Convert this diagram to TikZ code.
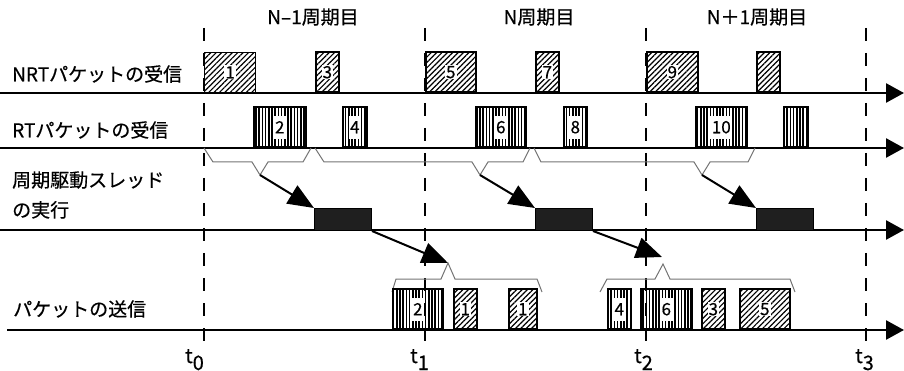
\documentclass[tikz,border=0pt]{standalone}
\usepackage{fontspec}
\setmainfont{Noto Sans CJK JP}[FakeBold=0.5]
\usetikzlibrary{arrows.meta,patterns.meta}

% packet box: name, style, left x, right x, bottom y, number
\newcommand\pktbox[6]{%
  \node[#2, minimum width={#4-#3}, anchor=south west] (#1) at (#3,#5) {};
  \if\relax\detokenize{#6}\relax\else
    \node[#2num] at (#1.center) {#6};
  \fi}

\begin{document}
\begin{tikzpicture}[x=1pt,y=-1pt,
  axis/.style={line width=2.6pt,-{Triangle[length=18pt,width=19pt]}},
  period/.style={line width=2pt,dash pattern=on 13pt off 12pt},
  rowlbl/.style={anchor=west,inner sep=0pt,font=\fontsize{19}{30}\selectfont,align=left},
  cyclbl/.style={inner sep=0pt,font=\fontsize{19}{22}\selectfont},
  tlbl/.style={anchor=base west,inner sep=0pt,font=\fontsize{20}{22}\selectfont},
  nrt/.style={draw,line width=1.6pt,inner sep=0pt,minimum height=40pt,
    pattern={Lines[angle=45,distance=3.8pt,line width=1.2pt]}},
  rt/.style={draw,line width=1.6pt,inner sep=0pt,minimum height=40pt,
    pattern={Lines[angle=90,distance=3.2pt,line width=1.5pt]}},
  nrtnum/.style={fill=white,inner sep=1pt,font=\fontsize{17}{17}\selectfont},
  rtnum/.style={fill=white,inner xsep=1.5pt,inner ysep=0pt,minimum height=23pt,
    font=\fontsize{17}{17}\selectfont},
  exec/.style={draw,line width=1pt,fill=black!88,inner sep=0pt,
    minimum width=57pt,minimum height=22pt,anchor=north west},
  brace/.style={draw=black!55,line width=1pt,line join=miter},
  flow/.style={line width=2pt,-{Triangle[length=26pt,width=21pt]}}]

\useasboundingbox (0,0) rectangle (904,371);

% time axes
\draw[axis] (0,93) -- (904,93);
\draw[axis] (0,148) -- (904,148);
\draw[axis] (0,230) -- (904,230);
\draw[axis] (7,330) -- (904,330);

% cycle boundaries
\foreach \x in {204,425,646,866}
  \draw[period] (\x,28) -- (\x,342);

% cycle titles
\node[cyclbl] (c1) at (313,17) {N–1周期目};
\node[cyclbl] (c2) at (539,17) {N周期目};
\node[cyclbl] (c3) at (757,17) {N＋1周期目};

% row titles
\node[rowlbl] (r1) at (12,74) {NRTパケットの受信};
\node[rowlbl] (r2) at (12,130) {RTパケットの受信};
\node[rowlbl] (r3) at (12,195) {周期駆動スレッド\\の実行};
\node[rowlbl] (r4) at (13,309) {パケットの送信};

% NRT packets received
\pktbox{n1}{nrt}{204}{255}{93}{1}
\pktbox{n3}{nrt}{315}{338}{93}{3}
\pktbox{n5}{nrt}{425}{475}{93}{5}
\pktbox{n7}{nrt}{535}{558}{93}{7}
\pktbox{n9}{nrt}{646}{697}{93}{9}
\pktbox{n11}{nrt}{756}{779}{93}{}

% RT packets received
\pktbox{q2}{rt}{253}{305}{148}{2}
\pktbox{q4}{rt}{342}{366}{148}{4}
\pktbox{q6}{rt}{475}{525}{148}{6}
\pktbox{q8}{rt}{563}{586}{148}{8}
\pktbox{q10}{rt}{695}{746}{148}{10}
\pktbox{q12}{rt}{783}{807}{148}{}

% groups of received packets handed to each cycle
\coordinate (bA) at (260,175);
\coordinate (bB) at (480,175);
\coordinate (bC) at (702,175);
\draw[brace] (204,148) -- (213,162) -- (252,162) -- (bA) -- (268,162) -- (303,162) -- (311,148);
\draw[brace] (315,148) -- (324,162) -- (472,162) -- (bB) -- (488,162) -- (523,162) -- (530,148);
\draw[brace] (534,148) -- (541,162) -- (694,162) -- (bC) -- (710,162) -- (748,162) -- (755,148);

% periodic thread runs
\node[exec] (e1) at (314,208) {};
\node[exec] (e2) at (535,208) {};
\node[exec] (e3) at (756,208) {};

\draw[flow] (bA) -- (e1.north west);
\draw[flow] (bB) -- (e2.north west);
\draw[flow] (bC) -- (e3.north west);

% groups of packets sent
\coordinate (sA) at (448,263);
\coordinate (sB) at (663,264);
\coordinate (sBin) at (662,257);
\draw[brace] (392,292) -- (396,279) -- (441,279) -- (sA) -- (455,279) -- (537,279) -- (542,292);
\draw[brace] (600,292) -- (607,279) -- (655,279) -- (sB) -- (670,279) -- (790,279) -- (795,292);

\draw[flow] (e1.south east) -- (sA);
\draw[flow] (e2.south east) -- (sBin);

% packets sent
\pktbox{s2}{rt}{392}{442}{330}{2}
\pktbox{s1a}{nrt}{453}{476}{330}{1}
\pktbox{s1b}{nrt}{508}{536}{330}{1}
\pktbox{s4}{rt}{607}{630}{330}{4}
\pktbox{s6}{rt}{640}{691}{330}{6}
\pktbox{s3}{nrt}{701}{724}{330}{3}
\pktbox{s5}{nrt}{739}{789}{330}{5}

% cycle start times
\node[tlbl] (t0) at (185,363) {t\raisebox{-7pt}{0}};
\node[tlbl] (t1) at (410,363) {t\raisebox{-7pt}{1}};
\node[tlbl] (t2) at (634,363) {t\raisebox{-7pt}{2}};
\node[tlbl] (t3) at (855,363) {t\raisebox{-7pt}{3}};
\end{tikzpicture}
\end{document}
